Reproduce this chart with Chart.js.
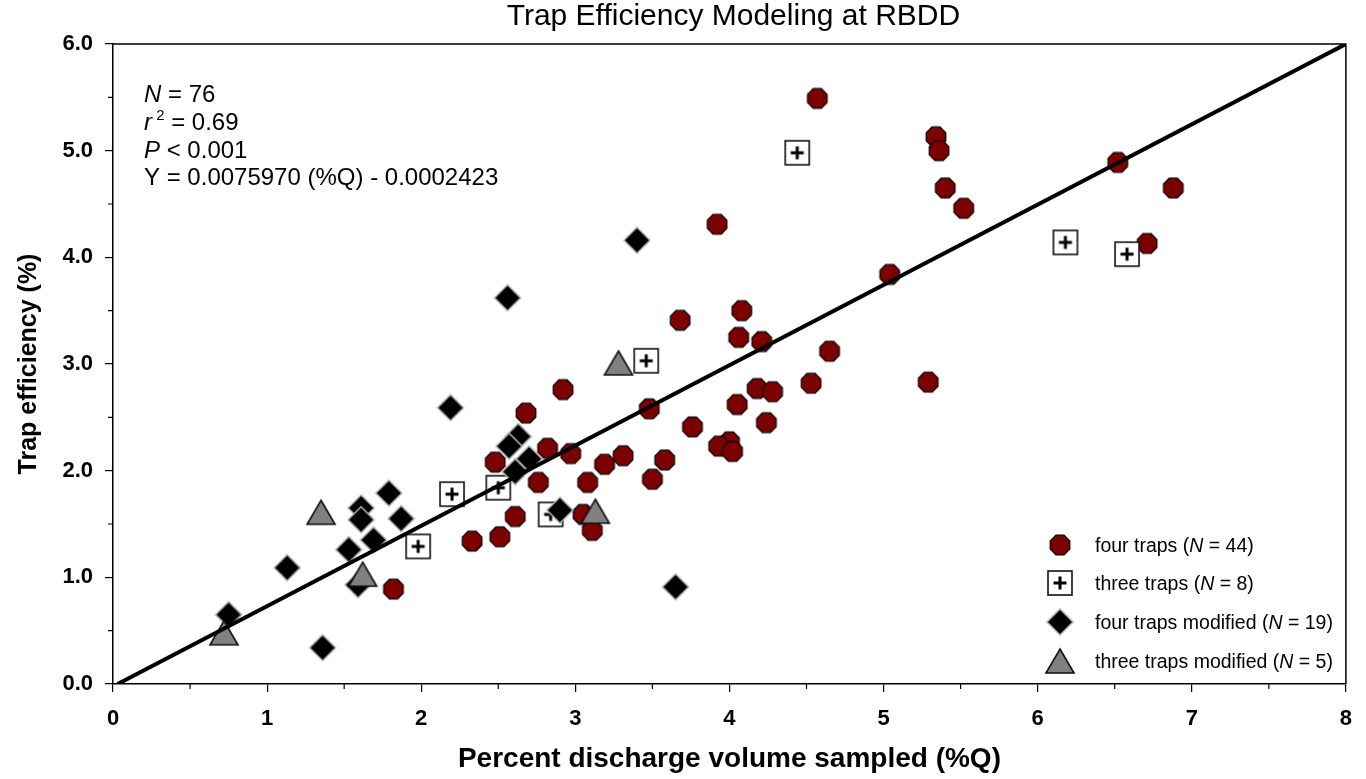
<!DOCTYPE html>
<html>
<head>
<meta charset="utf-8">
<title>Trap Efficiency Modeling at RBDD</title>
<script src="https://cdn.jsdelivr.net/npm/chart.js@4.4.1/dist/chart.umd.min.js"></script>
<style>
  html, body { margin: 0; padding: 0; background: #fff; }
  #wrap { width: 1366px; height: 779px; }
</style>
</head>
<body>
<div id="wrap"><canvas id="chart" width="1366" height="779"></canvas></div>
<script>
// four traps (N = 44)
const fourX = [4.57, 5.34, 5.36, 5.40, 5.52, 6.52, 6.88, 6.71, 5.04, 3.92, 3.68, 4.08, 4.06, 4.21, 4.65,
  4.53, 5.29, 2.92, 2.68, 3.48, 4.18, 4.28, 4.05, 4.24, 3.76, 4.00, 3.93, 4.02, 2.82, 2.97,
  3.31, 3.58, 3.19, 2.48, 2.76, 3.50, 3.08, 2.61, 3.05, 3.11, 2.51, 2.33, 1.82];
const fourY = [5.49, 5.13, 5.00, 4.65, 4.46, 4.89, 4.65, 4.13, 3.84, 4.31, 3.41, 3.50, 3.25, 3.21, 3.12,
  2.82, 2.83, 2.76, 2.54, 2.58, 2.77, 2.74, 2.62, 2.45, 2.41, 2.27, 2.23, 2.18, 2.21, 2.16,
  2.14, 2.10, 2.06, 2.08, 1.89, 1.92, 1.89, 1.57, 1.59, 1.44, 1.38, 1.34, 0.89];

// three traps (N = 8)
const threeX = [4.44, 6.18, 6.58, 3.46, 2.20, 2.50, 2.84, 1.98];
const threeY = [4.98, 4.14, 4.03, 3.03, 1.78, 1.84, 1.59, 1.29];

// four traps modified (N = 19)
const fourModX = [3.40, 2.56, 2.19, 2.63, 2.57, 2.70, 2.61, 1.79, 1.61, 1.61, 1.87, 1.69, 1.53, 1.13,
  1.59, 0.75, 1.36, 2.90, 3.65];
const fourModY = [4.16, 3.62, 2.59, 2.32, 2.23, 2.11, 1.99, 1.79, 1.65, 1.54, 1.55, 1.35, 1.26, 1.09,
  0.93, 0.65, 0.34, 1.63, 0.91];

// three traps modified (N = 5)
const threeModX = [3.28, 1.35, 1.62, 0.72, 3.13];
const threeModY = [3.01, 1.61, 1.03, 0.48, 1.62];

// regression line end points
const fitX = [0.03, 8.0];
const fitY = [0.0, 6.0];

const xTicks = [0, 1, 2, 3, 4, 5, 6, 7, 8];
const yTicks = [0, 1, 2, 3, 4, 5, 6];

const seriesNames = ['four traps', 'three traps', 'four traps modified', 'three traps modified'];
const seriesN = [44, 8, 19, 5];

const FONT = 'Arial, "Liberation Sans", Helvetica, sans-serif';

function pts(xs, ys) {
    return xs.map((x, i) => ({ x: x, y: ys[i] }));
}

// marker images
function newCanvas(size) {
    const c = document.createElement('canvas');
    c.width = size;
    c.height = size;
    return c;
}

function makeOctagon() {
    const c = newCanvas(24), g = c.getContext('2d');
    const r = 10.6;
    g.beginPath();
    for (let k = 0; k < 8; k++) {
        const a = Math.PI / 8 + k * Math.PI / 4;
        const px = 12 + r * Math.cos(a), py = 12 + r * Math.sin(a);
        if (k === 0) g.moveTo(px, py); else g.lineTo(px, py);
    }
    g.closePath();
    g.fillStyle = '#7d0000';
    g.fill();
    g.lineWidth = 1.2;
    g.strokeStyle = '#000';
    g.stroke();
    return c;
}

function makeSquare() {
    const c = newCanvas(28), g = c.getContext('2d');
    g.fillStyle = '#fff';
    g.fillRect(2, 2, 24, 24);
    g.lineWidth = 1.6;
    g.strokeStyle = '#111';
    g.strokeRect(2, 2, 24, 24);
    g.fillStyle = '#000';
    g.fillRect(12.5, 7.5, 3, 13);
    g.fillRect(7.5, 12.5, 13, 3);
    return c;
}

function makeDiamond() {
    const c = newCanvas(30), g = c.getContext('2d');
    g.beginPath();
    g.moveTo(15, 2);
    g.lineTo(28, 15);
    g.lineTo(15, 28);
    g.lineTo(2, 15);
    g.closePath();
    g.fillStyle = '#000';
    g.fill();
    g.lineWidth = 1.5;
    g.strokeStyle = '#b0b0b0';
    g.stroke();
    return c;
}

function makeTriangle() {
    const c = newCanvas(32), g = c.getContext('2d');
    g.beginPath();
    g.moveTo(16, 4);
    g.lineTo(30, 28);
    g.lineTo(2, 28);
    g.closePath();
    g.fillStyle = '#808080';
    g.fill();
    g.lineWidth = 1.6;
    g.strokeStyle = '#111';
    g.stroke();
    return c;
}

const markers = [makeOctagon(), makeSquare(), makeDiamond(), makeTriangle()];

// text pieces, some in italic
function drawPieces(ctx, pieces, x, y, size) {
    let cx = x;
    pieces.forEach(p => {
        const sz = p.size || size;
        ctx.font = (p.italic ? 'italic ' : '') + sz + 'px ' + FONT;
        ctx.fillText(p.t, cx, y - (p.raise || 0));
        cx += ctx.measureText(p.t).width;
    });
}

const extras = {
    id: 'extras',
    afterDraw(chart) {
        const { ctx, chartArea: a, scales } = chart;
        const sx = scales.x, sy = scales.y;
        ctx.save();

        // box on top and right
        ctx.strokeStyle = '#000';
        ctx.lineWidth = 1.5;
        ctx.beginPath();
        ctx.moveTo(a.left, a.top);
        ctx.lineTo(a.right, a.top);
        ctx.lineTo(a.right, a.bottom);
        ctx.stroke();

        // minor ticks
        ctx.lineWidth = 1.2;
        ctx.beginPath();
        for (let v = 0.5; v < 8; v += 1) {
            const px = sx.getPixelForValue(v);
            ctx.moveTo(px, a.bottom);
            ctx.lineTo(px, a.bottom + 5);
        }
        for (let v = 0.5; v < 6; v += 1) {
            const py = sy.getPixelForValue(v);
            ctx.moveTo(a.left, py);
            ctx.lineTo(a.left - 5, py);
        }
        ctx.stroke();

        ctx.fillStyle = '#000';
        ctx.textBaseline = 'alphabetic';

        // title
        ctx.textAlign = 'center';
        ctx.font = '30px ' + FONT;
        ctx.fillText('Trap Efficiency Modeling at RBDD', (a.left + a.right) / 2 + 4, 25);

        // statistics
        ctx.textAlign = 'left';
        const tx = a.left + 31;
        drawPieces(ctx, [{ t: 'N', italic: true }, { t: ' = 76' }], tx, 101.5, 24);
        drawPieces(ctx, [{ t: 'r', italic: true }, { t: ' 2', size: 15, raise: 10 }, { t: ' = 0.69' }], tx, 130, 24);
        drawPieces(ctx, [{ t: 'P', italic: true }, { t: ' < 0.001' }], tx, 158, 24);
        drawPieces(ctx, [{ t: 'Y = 0.0075970 (%Q) - 0.0002423' }], tx, 185, 24);

        // legend
        const legY = [545, 583, 622, 661];
        const mx = 1060, lx = 1095;
        seriesNames.forEach((name, i) => {
            const m = markers[i];
            ctx.drawImage(m, mx - m.width / 2, legY[i] - m.height / 2);
            drawPieces(ctx, [{ t: name + ' (' }, { t: 'N', italic: true }, { t: ' = ' + seriesN[i] + ')' }],
                lx, legY[i] + 7, 19.5);
        });

        ctx.restore();
    }
};

const ctx = document.getElementById('chart').getContext('2d');

new Chart(ctx, {
    type: 'scatter',
    data: {
        datasets: [
            {
                label: seriesNames[0],
                data: pts(fourX, fourY),
                pointStyle: markers[0],
                order: 4
            },
            {
                label: seriesNames[1],
                data: pts(threeX, threeY),
                pointStyle: markers[1],
                order: 3
            },
            {
                label: seriesNames[2],
                data: pts(fourModX, fourModY),
                pointStyle: markers[2],
                order: 2
            },
            {
                label: seriesNames[3],
                data: pts(threeModX, threeModY),
                pointStyle: markers[3],
                order: 1
            },
            {
                type: 'line',
                label: 'fit',
                data: pts(fitX, fitY),
                borderColor: '#000',
                borderWidth: 4,
                pointRadius: 0,
                fill: false,
                order: 0
            }
        ]
    },
    options: {
        responsive: false,
        animation: false,
        devicePixelRatio: 1,
        layout: { padding: { top: 44, right: 20, left: 0, bottom: 0 } },
        plugins: {
            legend: { display: false },
            title: { display: false },
            tooltip: { enabled: false }
        },
        scales: {
            x: {
                type: 'linear',
                min: 0,
                max: 8,
                afterFit: s => { s.height = 95; },
                afterBuildTicks: s => { s.ticks = xTicks.map(v => ({ value: v })); },
                ticks: {
                    color: '#000',
                    padding: 14,
                    maxRotation: 0,
                    autoSkip: false,
                    font: { family: FONT, size: 22, weight: 'bold' },
                    callback: v => String(v)
                },
                grid: { drawOnChartArea: false, tickLength: 8, color: '#000', lineWidth: 1.2 },
                border: { display: true, color: '#000', width: 1.5 },
                title: {
                    display: true,
                    text: 'Percent discharge volume sampled (%Q)',
                    color: '#000',
                    font: { family: FONT, size: 28, weight: 'bold' },
                    padding: { top: 0, bottom: 3 }
                }
            },
            y: {
                type: 'linear',
                min: 0,
                max: 6,
                afterFit: s => { s.width = 113; },
                afterBuildTicks: s => { s.ticks = yTicks.map(v => ({ value: v })); },
                ticks: {
                    color: '#000',
                    padding: 12,
                    autoSkip: false,
                    font: { family: FONT, size: 22, weight: 'bold' },
                    callback: v => v.toFixed(1)
                },
                grid: { drawOnChartArea: false, tickLength: 8, color: '#000', lineWidth: 1.2 },
                border: { display: true, color: '#000', width: 1.5 },
                title: {
                    display: true,
                    text: 'Trap efficiency (%)',
                    color: '#000',
                    font: { family: FONT, size: 25, weight: 'bold' },
                    padding: { top: 14, bottom: 0 }
                }
            }
        }
    },
    plugins: [extras]
});
</script>
</body>
</html>
